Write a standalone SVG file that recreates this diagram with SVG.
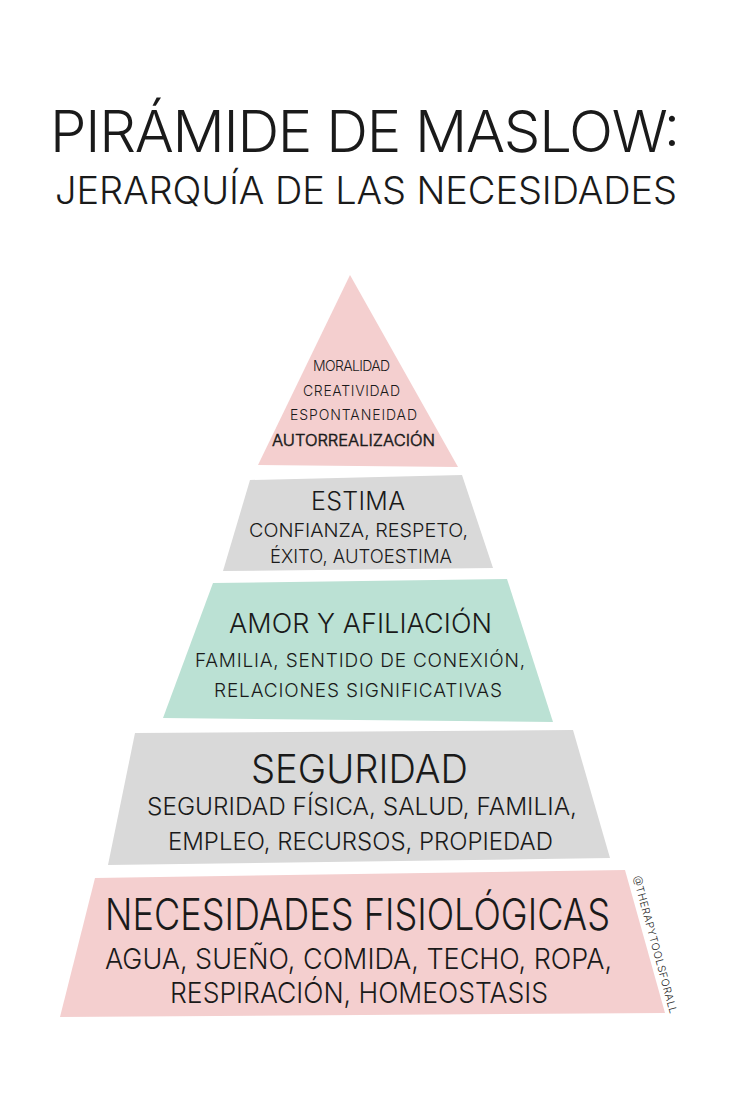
<svg xmlns="http://www.w3.org/2000/svg" width="736" height="1103" viewBox="0 0 736 1103">
<style>
.t{font-family:Inter,"Open Sans","DejaVu Sans",sans-serif;font-weight:300;fill:#1a1a1a;}
.b{stroke:#1a1a1a;stroke-width:0.5}
.pink{fill:#f4cfcf}
.gray{fill:#d9d9d9}
.mint{fill:#bbe1d4}
</style>
<rect width="736" height="1103" fill="#ffffff"/>
<g id="title">
<text class="t" x="50" y="152" font-size="58" textLength="630" lengthAdjust="spacing">PIRÁMIDE DE MASLOW:</text>
<text class="t" x="55" y="204" font-size="38" textLength="622" lengthAdjust="spacing">JERARQUÍA DE LAS NECESIDADES</text>
</g>
<g id="autorrealizacion">
<polygon class="pink" points="350,275 458,467 258,465"/>
<text class="t" x="313" y="371" font-size="14" textLength="77" lengthAdjust="spacing">MORALIDAD</text>
<text class="t" x="303" y="396" font-size="14" textLength="97" lengthAdjust="spacing">CREATIVIDAD</text>
<text class="t" x="290" y="420" font-size="14" textLength="127" lengthAdjust="spacing">ESPONTANEIDAD</text>
<text class="t b" x="272" y="446" font-size="16" font-weight="600" textLength="163" lengthAdjust="spacingAndGlyphs">AUTORREALIZACIÓN</text>
</g>
<g id="estima">
<polygon class="gray" points="250,480 462,475 493,568 223,571"/>
<text class="t" x="311" y="510" font-size="25" textLength="94" lengthAdjust="spacing">ESTIMA</text>
<text class="t" x="249" y="537" font-size="19" textLength="219" lengthAdjust="spacingAndGlyphs">CONFIANZA, RESPETO,</text>
<text class="t" x="270" y="563" font-size="19" textLength="182" lengthAdjust="spacingAndGlyphs">ÉXITO, AUTOESTIMA</text>
</g>
<g id="amor">
<polygon class="mint" points="213,583 507,579 553,722 163,718"/>
<text class="t" x="229" y="633" font-size="27" textLength="263" lengthAdjust="spacing">AMOR Y AFILIACIÓN</text>
<text class="t" x="195" y="667" font-size="19" textLength="330" lengthAdjust="spacing">FAMILIA, SENTIDO DE CONEXIÓN,</text>
<text class="t" x="214" y="697" font-size="19" textLength="288" lengthAdjust="spacing">RELACIONES SIGNIFICATIVAS</text>
</g>
<g id="seguridad">
<polygon class="gray" points="135,733 573,730 610,858 108,865"/>
<text class="t" x="251" y="783" font-size="40" textLength="217" lengthAdjust="spacingAndGlyphs">SEGURIDAD</text>
<text class="t" x="147" y="815" font-size="24" textLength="430" lengthAdjust="spacingAndGlyphs">SEGURIDAD FÍSICA, SALUD, FAMILIA,</text>
<text class="t" x="168" y="850" font-size="24" textLength="385" lengthAdjust="spacingAndGlyphs">EMPLEO, RECURSOS, PROPIEDAD</text>
</g>
<g id="fisiologicas">
<polygon class="pink" points="95,878 625,870 665,1013 60,1017"/>
<text class="t" x="105" y="930" font-size="43" textLength="505" lengthAdjust="spacingAndGlyphs">NECESIDADES FISIOLÓGICAS</text>
<text class="t" x="105" y="969" font-size="29" textLength="507" lengthAdjust="spacingAndGlyphs">AGUA, SUEÑO, COMIDA, TECHO, ROPA,</text>
<text class="t" x="170" y="1003" font-size="29" textLength="378" lengthAdjust="spacingAndGlyphs">RESPIRACIÓN, HOMEOSTASIS</text>
</g>
<g id="watermark">
<text class="t" font-size="10.5" transform="translate(633,877) rotate(74.9)" textLength="142" lengthAdjust="spacing">@THERAPYTOOLSFORALL</text>
</g>
</svg>
